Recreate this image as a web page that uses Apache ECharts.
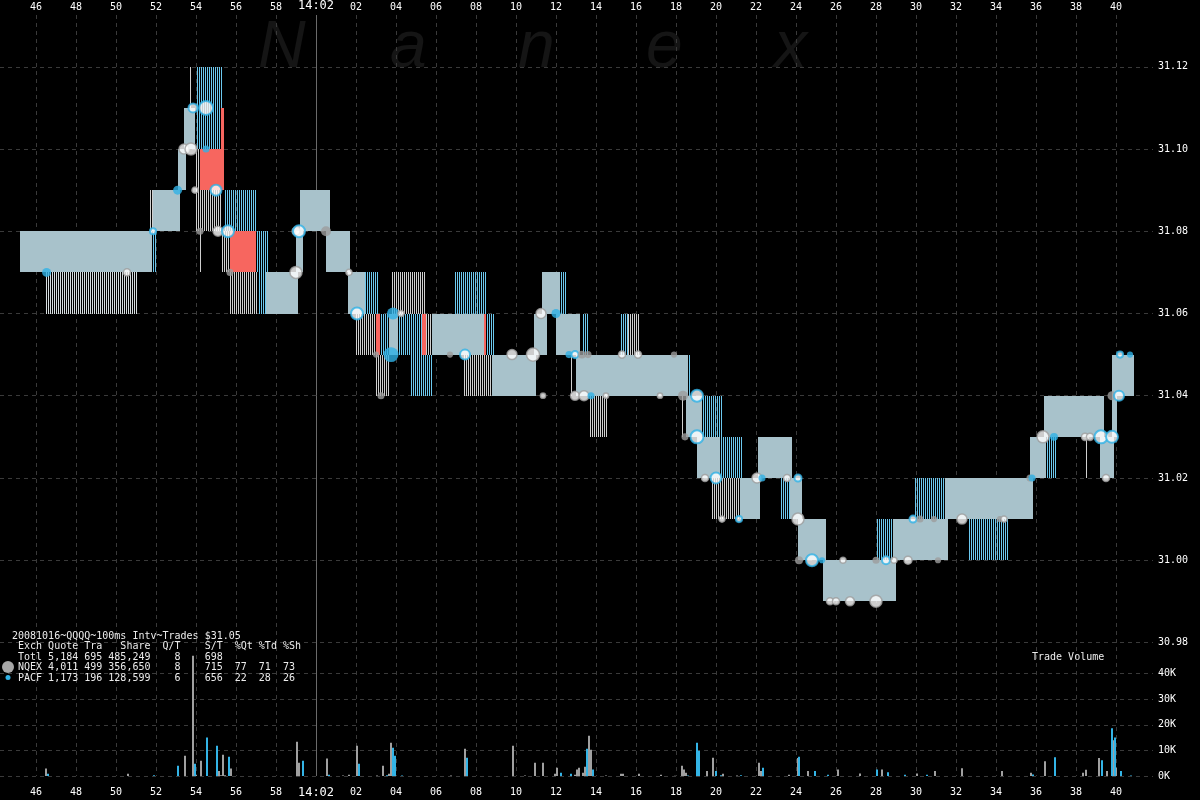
<!DOCTYPE html>
<html><head><meta charset="utf-8">
<script src="https://cdn.jsdelivr.net/npm/echarts@6/dist/echarts.min.js"></script>
<style>html,body{margin:0;padding:0;background:#000}#c{width:1200px;height:800px}</style>
</head><body><div id="c"></div>
<script>
// ---- time axis: seconds after 14:01:00 ----
const xTickValues = [46,48,50,52,54,56,58,60,62,64,66,68,70,72,74,76,78,80,82,84,86,88,90,92,94,96,98,100];
const xTickLabels = ['46','48','50','52','54','56','58','14:02','02','04','06','08','10','12','14','16','18','20','22','24','26','28','30','32','34','36','38','40'];
const priceTicks = [30.98,31.00,31.02,31.04,31.06,31.08,31.10,31.12];
const volumeTicks = [0,10000,20000,30000,40000];

// ---- quotes: [tStart, tEnd, low, high] ----
const bothQuotes = [
 [45.2,51.8,31.07,31.08],[51.85,53.2,31.08,31.09],[53.1,53.5,31.09,31.10],[53.4,53.95,31.10,31.11],
 [57.5,59.1,31.06,31.07],[59.0,59.35,31.07,31.08],[59.2,60.7,31.08,31.09],[60.5,61.7,31.07,31.08],
 [61.6,62.45,31.06,31.07],[63.65,64.1,31.05,31.06],[65.8,68.4,31.05,31.06],[68.8,71.0,31.04,31.05],
 [70.9,71.55,31.05,31.06],[71.3,72.2,31.06,31.07],[72.0,73.2,31.05,31.06],[73.0,78.6,31.04,31.05],
 [78.5,79.3,31.03,31.04],[79.05,80.2,31.02,31.03],[81.2,82.2,31.01,31.02],[82.1,83.8,31.02,31.03],
 [83.7,84.3,31.01,31.02],[84.1,85.5,31.00,31.01],[85.35,89.0,30.99,31.00],[88.85,91.6,31.00,31.01],
 [91.45,95.85,31.01,31.02],[95.7,96.5,31.02,31.03],[96.4,99.4,31.03,31.04],[99.2,99.9,31.02,31.03],
 [99.8,100.05,31.03,31.04],[99.8,100.9,31.04,31.05]
];
const pacfOnlyQuotes = [
 [51.8,52.0,31.07,31.08],[54.05,55.35,31.10,31.12],[55.4,57.0,31.08,31.09],[57.0,57.6,31.07,31.08],
 [57.1,57.5,31.06,31.07],[62.45,63.1,31.06,31.07],[66.95,68.5,31.06,31.07],[72.2,72.55,31.06,31.07],
 [63.2,63.65,31.05,31.06],[64.1,65.3,31.05,31.06],[68.5,68.9,31.05,31.06],[64.75,65.85,31.04,31.05],
 [73.3,73.6,31.05,31.06],[75.25,75.6,31.05,31.06],[79.3,80.3,31.03,31.04],[80.2,81.3,31.02,31.03],
 [83.25,83.7,31.01,31.02],[88.05,88.85,31.00,31.01],[89.95,91.45,31.01,31.02],[92.65,94.6,31.00,31.01],
 [96.5,97.0,31.02,31.03]
];
const nqexOnlyQuotes = [
 [51.7,51.85,31.08,31.09],[54.0,54.2,31.09,31.10],[54.0,55.3,31.08,31.09],[55.3,55.7,31.07,31.08],
 [55.7,57.1,31.06,31.07],[63.8,65.45,31.06,31.07],[62.0,63.0,31.05,31.06],[65.5,65.8,31.05,31.06],
 [63.0,63.7,31.04,31.05],[67.4,68.85,31.04,31.05],[75.6,76.15,31.05,31.06],[73.7,74.55,31.03,31.04],
 [79.8,81.2,31.01,31.02]
];
const mixedQuotes = [[46.5,51.1,31.06,31.07]];
const crossedQuotes = [
 [54.2,55.4,31.09,31.10],[55.25,55.4,31.10,31.11],[55.7,57.0,31.07,31.08],
 [63.0,63.2,31.05,31.06],[65.3,65.5,31.05,31.06],[68.4,68.5,31.05,31.06]
];
// single quote ticks: [t, low, high]
const nqexQuoteTicks = [[53.7,31.11,31.12],[54.2,31.07,31.08],[72.75,31.04,31.05],[78.3,31.03,31.04],[98.5,31.02,31.03]];
const pacfQuoteTicks = [[78.65,31.04,31.05]];

// ---- trades: [t, price, shares, kind]  N/P = white ring NQEX/PACF, n/p = solid NQEX/PACF ----
const trades = [
 [46.53,31.07,1600,'p'],[50.55,31.07,600,'N'],[51.85,31.08,300,'P'],[53.08,31.09,1600,'p'],
 [53.95,31.09,300,'N'],[53.4,31.10,2300,'N'],[53.75,31.10,4100,'N'],[54.5,31.10,600,'p'],
 [53.85,31.11,1600,'P'],[54.5,31.11,6400,'P'],[55.0,31.09,3100,'P'],[54.2,31.08,600,'n'],
 [55.1,31.08,2300,'N'],[55.6,31.08,4100,'P'],[55.7,31.07,600,'n'],[59.0,31.08,1000,'N'],
 [59.15,31.08,4100,'P'],[60.5,31.08,2300,'n'],[59.0,31.07,4100,'N'],[61.65,31.07,300,'N'],
 [62.05,31.06,4100,'P'],[63.85,31.06,4100,'p'],[64.25,31.06,300,'N'],[63.0,31.05,300,'n'],
 [63.75,31.05,7700,'p'],[63.25,31.04,600,'n'],[66.7,31.05,300,'n'],[67.45,31.05,2300,'P'],
 [69.8,31.05,2300,'N'],[70.85,31.05,5200,'N'],[71.25,31.06,2300,'N'],[72.0,31.06,1600,'p'],
 [71.35,31.04,100,'N'],[72.65,31.05,600,'p'],[72.95,31.05,600,'P'],[73.3,31.05,1000,'n'],
 [73.6,31.05,600,'n'],[72.95,31.04,1600,'N'],[73.4,31.04,2300,'N'],[73.75,31.04,600,'p'],
 [74.5,31.04,100,'N'],[75.3,31.05,600,'N'],[76.1,31.05,600,'N'],[77.9,31.05,300,'n'],
 [77.2,31.04,100,'N'],[78.35,31.04,2300,'n'],[79.05,31.04,4100,'P'],[78.45,31.03,600,'n'],
 [79.05,31.03,5200,'P'],[79.45,31.02,600,'N'],[80.0,31.02,3100,'P'],[80.3,31.01,300,'N'],
 [81.15,31.01,300,'P'],[82.05,31.02,2300,'N'],[82.3,31.02,600,'p'],[83.55,31.02,600,'N'],
 [84.1,31.02,600,'P'],[84.1,31.01,4100,'N'],[84.15,31.00,1000,'n'],[84.8,31.00,4100,'P'],
 [85.3,31.00,300,'p'],[86.35,31.00,300,'N'],[85.7,30.99,600,'N'],[86.0,30.99,600,'N'],
 [86.7,30.99,1600,'N'],[88.0,30.99,4100,'N'],[88.0,31.00,600,'n'],[88.5,31.00,1000,'P'],
 [88.9,31.00,300,'N'],[89.6,31.00,1000,'N'],[91.1,31.00,300,'n'],[89.85,31.01,600,'P'],
 [90.2,31.01,600,'n'],[90.9,31.01,300,'n'],[92.3,31.01,2300,'N'],[94.2,31.01,300,'n'],
 [94.4,31.01,300,'N'],[95.7,31.02,600,'n'],[95.8,31.02,600,'p'],[96.35,31.03,4100,'N'],
 [96.9,31.03,1000,'p'],[98.45,31.03,600,'N'],[98.7,31.03,600,'N'],[99.25,31.03,5200,'P'],
 [99.8,31.03,4100,'P'],[99.5,31.02,600,'N'],[99.8,31.04,1600,'n'],[100.15,31.04,2300,'P'],
 [100.2,31.05,300,'P'],[100.7,31.05,300,'p']
];

// ---- trade volume: [t, shares] ----
const nqexVolume = [
 [46.5,2900],[50.6,900],[53.45,7900],[53.85,47000],[54.0,500],[54.25,6000],[55.15,2000],[55.25,300],
 [55.35,8300],[55.45,300],[55.75,2900],[59.05,13400],[59.15,5200],[60.55,6800],[61.35,200],[61.65,500],
 [62.05,11800],[63.05,200],[63.35,4000],[63.65,900],[63.75,13000],[63.9,3000],[66.75,200],[67.45,10600],
 [69.85,11800],[70.45,200],[70.95,5200],[71.35,5200],[71.95,900],[72.05,3200],[72.95,500],[73.05,2500],
 [73.15,3200],[73.35,1300],[73.45,3600],[73.65,15700],[73.75,10300],[74.5,200],[75.25,900],[75.35,900],
 [76.15,900],[77.25,500],[77.95,100],[78.3,4000],[78.4,2500],[78.5,1300],[79.55,2000],[79.85,7100],
 [80.35,900],[81.05,200],[82.15,5200],[82.25,2000],[83.65,500],[84.1,7000],[84.6,2000],[86.1,2500],
 [87.2,1000],[88.3,2500],[90.05,1000],[90.95,2000],[92.3,3000],[94.3,2000],[95.75,1300],[96.45,5800],
 [98.35,1300],[98.5,2400],[99.15,7000],[99.55,2000],[99.85,14000],[100.0,3200]
];
const pacfVolume = [
 [46.6,900],[51.9,300],[53.1,4000],[53.95,4800],[54.55,15000],[55.05,11800],[55.65,7500],[59.35,6000],
 [60.65,500],[62.15,4800],[63.55,300],[63.85,11000],[63.95,7900],[64.3,200],[67.55,7100],[72.25,1300],
 [72.75,900],[73.55,10600],[73.85,2500],[78.6,200],[79.05,13000],[79.15,9900],[80.0,2000],[80.25,300],
 [81.25,300],[82.35,3200],[84.15,7500],[84.95,2000],[85.6,500],[88.05,2500],[88.6,1500],[89.45,500],
 [90.55,500],[95.85,600],[96.95,7300],[99.3,6200],[99.8,18700],[99.95,15000],[100.25,2000],[100.75,200]
];

const legendLines = [
 '20081016~QQQQ~100ms Intv~Trades $31.05',
 ' Exch Quote Tra   Share  Q/T    S/T  %Qt %Td %Sh',
 ' Totl 5,184 695 485,249    8    698',
 ' NQEX 4,011 499 356,650    8    715  77  71  73',
 ' PACF 1,173 196 128,599    6    656  22  28  26'
];

// ---- styling / layout ----
const MONO = 'DejaVu Sans Mono';
const Q_BOTH = '#a8c2cb', H_GRAY = '#cfcfcf', H_BLUE = '#6cc8ee', H_MIX = '#d6dde0', RED = '#f7665f';
const DOT_GRAY = '#9c9c9c', DOT_BLUE = '#2fb2e6';
const GRID_LINE = {color:'#3a3a3a', type:[4,4], width:1};
const PX_PER_DOLLAR = 4128, PLOT_TOP = 12, PLOT_BOTTOM = 776;
const PMAX = 31.12 + (64 - PLOT_TOP) / PX_PER_DOLLAR;
const PMIN = PMAX - (PLOT_BOTTOM - PLOT_TOP) / PX_PER_DOLLAR;

// colour of a 1px quote column at pixel x for the single-exchange quote kinds
function columnColor(kind, x){
  if (kind === 'pacf') return (x % 2 === 1) ? H_BLUE : null;
  if (kind === 'nqex') return (x % 2 === 0) ? H_GRAY : null;
  if (kind === 'mixed') return (x % 2 === 0) ? H_MIX : null;
  return null;
}

function blockSeries(data, kind, z){
  return {
    type:'custom', xAxisIndex:0, yAxisIndex:0, data, silent:true, z, clip:true,
    encode:{x:[0,1], y:[2,3]},
    renderItem(params, api){
      const a = api.coord([api.value(0), api.value(3)]);
      const b = api.coord([api.value(1), api.value(2)]);
      const x0 = Math.round(a[0]), x1 = Math.max(Math.round(b[0]), Math.round(a[0]) + 1);
      const y0 = Math.round(a[1]), y1 = Math.round(b[1]);
      const h = y1 - y0;
      if (kind === 'red' || kind === 'both') {
        return {type:'rect', shape:{x:x0, y:y0, width:x1-x0, height:h}, style:{fill: kind === 'red' ? RED : Q_BOTH}};
      }
      const children = [];
      for (let x = x0; x < x1; x++) {
        const c = columnColor(kind, x);
        if (c) children.push({type:'rect', shape:{x:x, y:y0, width:1, height:h}, style:{fill:c}});
      }
      return {type:'group', children};
    }
  };
}
function tickSeries(data, color){
  return {
    type:'custom', xAxisIndex:0, yAxisIndex:0, data, silent:true, z:3,
    encode:{x:0, y:[1,2]},
    renderItem(params, api){
      const a = api.coord([api.value(0), api.value(2)]);
      const b = api.coord([api.value(0), api.value(1)]);
      return {type:'rect', shape:{x:Math.round(a[0]), y:Math.round(a[1]), width:1, height:Math.round(b[1])-Math.round(a[1])}, style:{fill:color}};
    }
  };
}
function volumeSeries(data, color){
  return {
    type:'custom', xAxisIndex:1, yAxisIndex:1, data, silent:true, z:3,
    encode:{x:0, y:1},
    renderItem(params, api){
      const a = api.coord([api.value(0), api.value(1)]);
      const b = api.coord([api.value(0), 0]);
      return {type:'rect', shape:{x:Math.round(a[0])-1, y:a[1], width:2, height:b[1]-a[1]}, style:{fill:color}};
    }
  };
}
const kindStyle = {
  N:{color:'#ffffff', borderColor:DOT_GRAY, borderWidth:1.5},
  P:{color:'#ffffff', borderColor:DOT_BLUE, borderWidth:2},
  n:{color:DOT_GRAY, borderWidth:0},
  p:{color:DOT_BLUE, borderWidth:0}
};
const tradeData = trades.map(d => ({
  value:[d[0], d[1]],
  symbolSize: 4 + Math.sqrt(d[2]) / 8,
  itemStyle: kindStyle[d[3]]
}));

const xLabelFmt = v => { const i = xTickValues.indexOf(v); const s = i >= 0 ? xTickLabels[i] : ''; return v === 60 ? '{b|' + s + '}' : s; };
const xLabelCommon = {color:'#ffffff', fontFamily:MONO, fontSize:10, customValues:xTickValues, formatter:xLabelFmt,
  rich:{b:{fontFamily:MONO, fontSize:12, color:'#ffffff'}}};

const watermark = ['N','a','n','e','x'];
const wmX = [258, 390, 518, 646, 774];
const graphics = [];
watermark.forEach((ch,i)=>graphics.push({type:'text', x:wmX[i], y:16, z:0, silent:true,
  style:{text:ch, fill:'#151515', font:'italic 66px "Liberation Sans"', textVerticalAlign:'top'}}));
legendLines.forEach((ln,i)=>graphics.push({type:'text', x:12, y:636.5 + i*10.4, z:10, silent:true,
  style:{text:ln, fill:'#ececec', font:'10px "' + MONO + '"', textVerticalAlign:'middle'}}));
graphics.push({type:'circle', shape:{cx:8, cy:667, r:6}, style:{fill:'#a8a8a8'}, z:10, silent:true});
graphics.push({type:'circle', shape:{cx:8, cy:677.5, r:2.5}, style:{fill:DOT_BLUE}, z:10, silent:true});
graphics.push({type:'text', x:1032, y:657, z:10, silent:true,
  style:{text:'Trade Volume', fill:'#ececec', font:'10px "' + MONO + '"', textVerticalAlign:'middle'}});

const chart = echarts.init(document.getElementById('c'), null, {renderer:'canvas'});
chart.setOption({
  backgroundColor:'#000000',
  animation:false,
  graphic: graphics,
  grid:[
    {left:0, right:47, top:PLOT_TOP, bottom:800-PLOT_BOTTOM},
    {left:0, right:47, top:648, bottom:800-PLOT_BOTTOM}
  ],
  xAxis:[
    {gridIndex:0, type:'value', min:44.2, max:101.85, position:'top',
     axisLine:{show:false}, axisTick:{show:false, customValues:xTickValues},
     axisLabel:Object.assign({margin:3}, xLabelCommon),
     splitLine:{show:true, lineStyle:GRID_LINE}},
    {gridIndex:1, type:'value', min:44.2, max:101.85, position:'bottom',
     axisLine:{show:false}, axisTick:{show:false, customValues:xTickValues},
     axisLabel:Object.assign({margin:11}, xLabelCommon),
     splitLine:{show:false}}
  ],
  yAxis:[
    {gridIndex:0, type:'value', min:PMIN, max:PMAX, position:'right',
     axisLine:{show:false}, axisTick:{show:false, customValues:priceTicks},
     axisLabel:{customValues:priceTicks, formatter:v=>v.toFixed(2), color:'#ffffff', fontFamily:MONO, fontSize:10, margin:5},
     splitLine:{show:true, lineStyle:GRID_LINE}},
    {gridIndex:1, type:'value', min:0, max:50000, position:'right',
     axisLine:{show:false}, axisTick:{show:false, customValues:volumeTicks},
     axisLabel:{customValues:volumeTicks, formatter:v=>(v/1000)+'K', color:'#ffffff', fontFamily:MONO, fontSize:10, margin:5},
     splitLine:{show:true, lineStyle:GRID_LINE}}
  ],
  series:[
    Object.assign(blockSeries(mixedQuotes, 'mixed', 2), {
      markLine:{silent:true, z:1, symbol:'none', label:{show:false},
        lineStyle:{color:'#6a6a6a', type:'solid', width:1}, data:[{xAxis:60}]}
    }),
    blockSeries(nqexOnlyQuotes, 'nqex', 2),
    blockSeries(pacfOnlyQuotes, 'pacf', 2),
    blockSeries(bothQuotes, 'both', 2),
    blockSeries(crossedQuotes, 'red', 2),
    tickSeries(nqexQuoteTicks, H_GRAY),
    tickSeries(pacfQuoteTicks, H_BLUE),
    {type:'scatter', xAxisIndex:0, yAxisIndex:0, symbol:'circle', data:tradeData, z:5, silent:true},
    volumeSeries(nqexVolume, '#a0a0a0'),
    volumeSeries(pacfVolume, '#33b4e6')
  ]
});
</script>
</body></html>
